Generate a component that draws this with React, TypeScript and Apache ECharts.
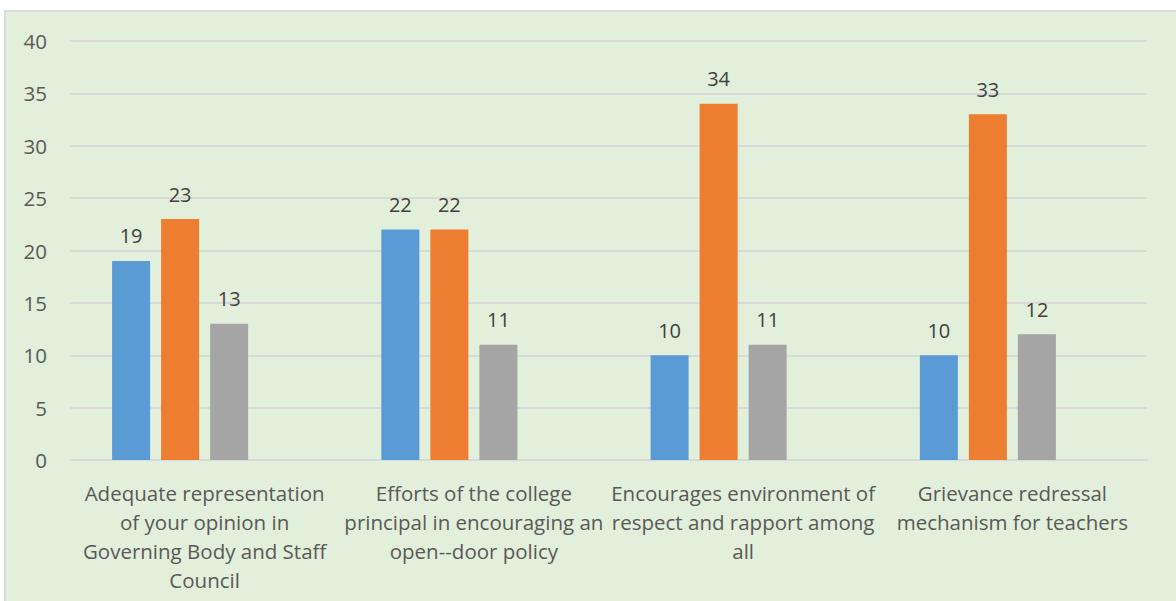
import React, { useEffect, useRef } from "react";
import * as echarts from "echarts";

const categories = [
  "Adequate representation\nof your opinion in\nGoverning Body and Staff\nCouncil",
  "Efforts of the college\nprincipal in encouraging an\nopen--door policy",
  "Encourages environment of\nrespect and rapport among\nall",
  "Grievance redressal\nmechanism for teachers",
];
const seriesA = [19, 22, 10, 10];
const seriesB = [23, 22, 34, 33];
const seriesC = [13, 11, 11, 12];
const seriesD: (number | null)[] = [null, null, null, null];
const yTicks = { min: 0, max: 40, interval: 5 };

const FONT = "'Open Sans', Lato, sans-serif";
const TEXT = "#595959";

export default function App() {
  const ref = useRef<HTMLDivElement>(null);
  useEffect(() => {
    if (!ref.current) return;
    const chart = echarts.init(ref.current, null, { renderer: "svg" });
    const mk = (name: string, data: (number | null)[], color: string) => ({
      name,
      type: "bar",
      data,
      barWidth: 38,
      barGap: "29%",
      itemStyle: { color },
      label: {
        show: true,
        position: "top",
        distance: 15,
        color: "#404040",
        fontSize: 20,
        fontFamily: FONT,
      },
    });
    chart.setOption({
      animation: false,
      backgroundColor: "#ffffff",
      graphic: [
        {
          type: "rect",
          shape: { x: 5, y: 11, width: 1180, height: 600 },
          style: { fill: "#E2EFDA", stroke: "#D9D9D9", lineWidth: 2 },
          z: -10,
        },
      ],
      grid: { left: 70, right: 29, top: 41, bottom: 141, containLabel: false },
      xAxis: {
        type: "category",
        data: categories,
        axisLine: { show: true, lineStyle: { color: "#D9D9D9", width: 2 } },
        axisTick: { show: false },
        axisLabel: {
          interval: 0,
          color: TEXT,
          fontSize: 20.5,
          fontFamily: FONT,
          lineHeight: 29,
          margin: 18,
          align: "center",
        },
      },
      yAxis: {
        type: "value",
        min: yTicks.min,
        max: yTicks.max,
        interval: yTicks.interval,
        axisLine: { show: false },
        axisTick: { show: false },
        splitLine: { lineStyle: { color: "#D9D9D9", width: 2 } },
        axisLabel: { color: TEXT, fontSize: 20.5, fontFamily: FONT, margin: 23 },
      },
      series: [
        mk("Series1", seriesA, "#5B9BD5"),
        mk("Series2", seriesB, "#ED7D31"),
        mk("Series3", seriesC, "#A5A5A5"),
        mk("Series4", seriesD, "#FFC000"),
      ],
    });
    return () => chart.dispose();
  }, []);
  return (
    <div
      ref={ref}
      style={{ position: "fixed", left: 0, top: 0, width: 1176, height: 601 }}
    />
  );
}
